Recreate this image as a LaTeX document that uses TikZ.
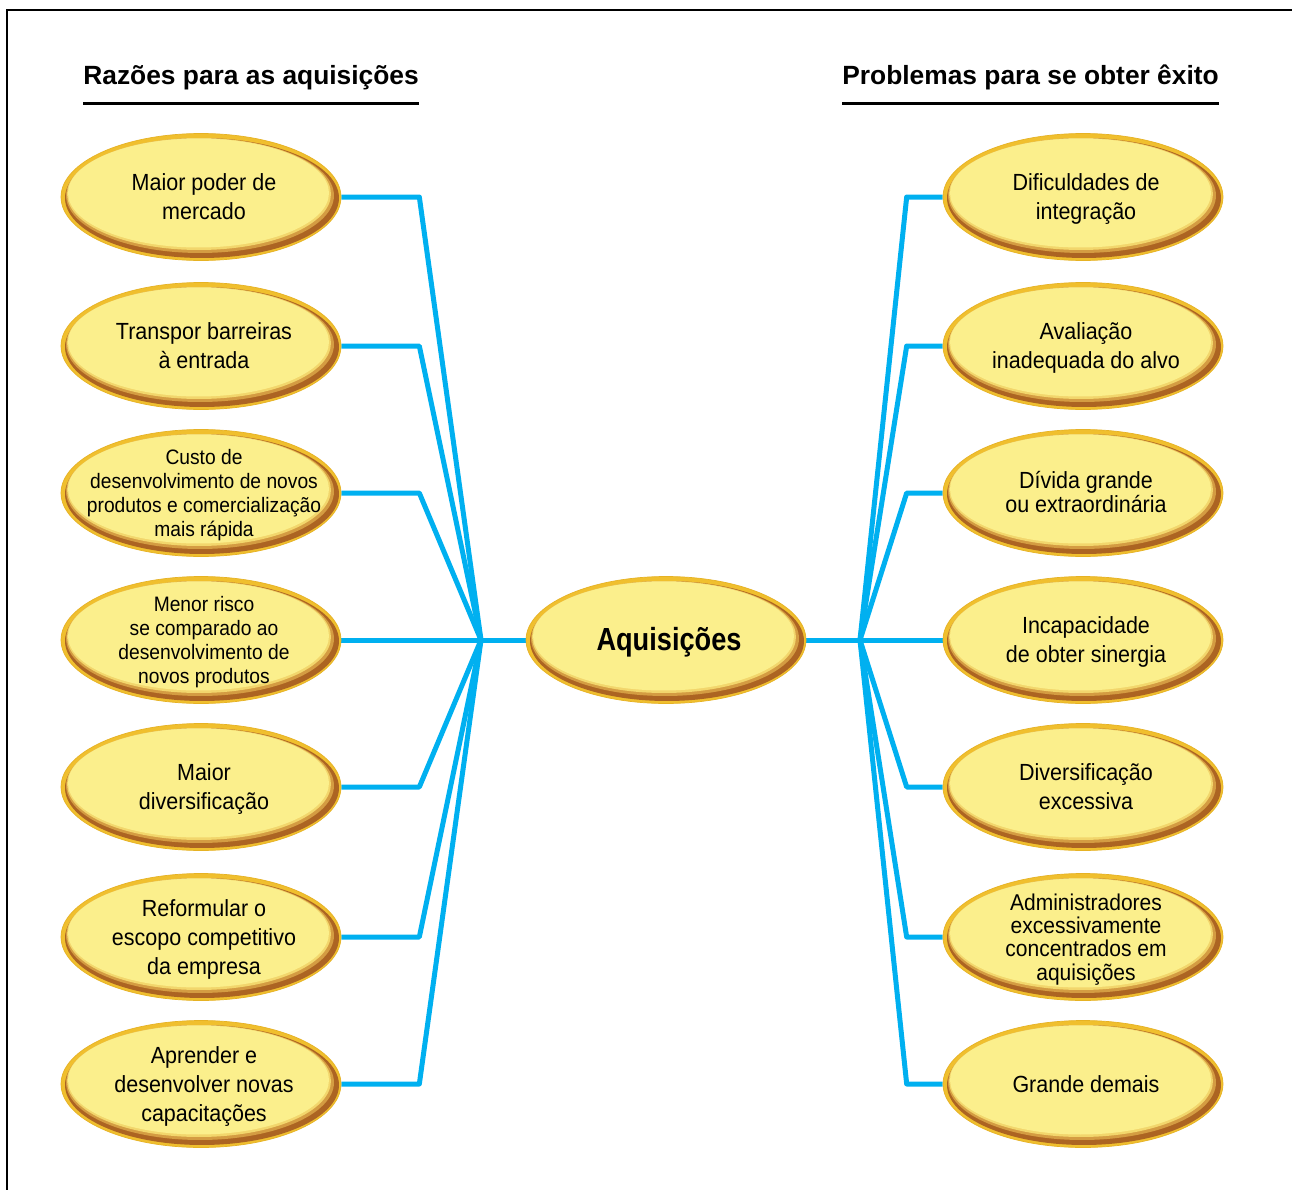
\documentclass[tikz,border=0pt]{standalone}
\usepackage{fontspec}
\setmainfont{Liberation Sans}[FakeStretch=0.92]
\newfontfamily\headfont{Liberation Sans}
\newfontfamily\hubfont{Liberation Sans}[FakeStretch=0.85]
\usetikzlibrary{shapes.geometric,backgrounds,calc}

\definecolor{linkblue}{HTML}{00B0F0}
\definecolor{rimgold}{HTML}{F0BF2E}
\definecolor{rimedge}{HTML}{E6B224}
\definecolor{shadebrown}{HTML}{AC6422}
\definecolor{shademid}{HTML}{D49C42}
\definecolor{shadelight}{HTML}{F2D66C}
\definecolor{bubbleyellow}{HTML}{FBEF8C}

% zero-size centred text block, so every bubble keeps the same size
\newcommand\ztext[1]{\makebox[0pt]{\hspace{0.12cm}\smash{\raisebox{\dimexpr-0.25em-1.7pt\relax}{\begin{tabular}[c]{@{}c@{}}#1\end{tabular}}}}}
\newcommand\normtxt{\fontsize{13.3}{16.4}\selectfont}
\newcommand\tighttxt{\fontsize{13.3}{13.6}\selectfont}
\newcommand\densetxt{\fontsize{11.9}{13.6}\selectfont}
\newcommand\admtxt{\fontsize{13}{12.5}\selectfont}

\tikzset{
  bubble/.style={ellipse, minimum width=5.6cm, minimum height=2.54cm, inner sep=0pt,
    fill=rimgold, draw=rimedge, line width=0.4pt,
    path picture={
      \fill[shadebrown] ([shift={(1,1)}]path picture bounding box.center)
        ellipse [x radius=2.74cm, y radius=1.2cm];
      \fill[shademid] ([shift={(-1,-1.5)}]path picture bounding box.center)
        ellipse [x radius=2.68cm, y radius=1.15cm];
      \fill[shadelight] ([shift={(-2,-3)}]path picture bounding box.center)
        ellipse [x radius=2.64cm, y radius=1.12cm];
      \fill[bubbleyellow] ([shift={(-2.5,-4)}]path picture bounding box.center)
        ellipse [x radius=2.61cm, y radius=1.09cm];
    }},
  link/.style={draw=linkblue, line width=0.1cm, line join=round},
  head/.style={inner sep=0pt, anchor=base west, font=\headfont\bfseries\fontsize{15}{18}\selectfont},
  headrule/.style={line width=0.06cm},
  frameline/.style={line width=0.06cm}
}

\begin{document}
\begin{tikzpicture}[x=0.02cm, y=-0.02cm]
\useasboundingbox (0,0) rectangle (1292,1190);

% frame
\draw[frameline] (7,1190) -- (7,10) -- (1292,10);

% column headings
\node[head] (H1) at (83,84) {Razões para as aquisições};
\node[head] (H2) at (842,84) {Problemas para se obter êxito};
\draw[headrule] ($(H1.base west)+(0,19)$) -- ($(H1.base east)+(0,19)$);
\draw[headrule] ($(H2.base west)+(0,19)$) -- ($(H2.base east)+(0,19)$);

% central bubble
\node[bubble, font=\hubfont\bfseries\fontsize{18.2}{20}\selectfont] (C) at (666,640) {\ztext{Aquisições}};

% reasons
\node[bubble, font=\normtxt]  (L1) at (201,197)  {\ztext{Maior poder de\\mercado}};
\node[bubble, font=\normtxt]  (L2) at (201,346)  {\ztext{Transpor barreiras\\à entrada}};
\node[bubble, font=\densetxt] (L3) at (201,493)  {\ztext{Custo de\\desenvolvimento de novos\\produtos e comercialização\\mais rápida}};
\node[bubble, font=\densetxt] (L4) at (201,640)  {\ztext{Menor risco\\se comparado ao\\desenvolvimento de\\novos produtos}};
\node[bubble, font=\normtxt]  (L5) at (201,787)  {\ztext{Maior\\diversificação}};
\node[bubble, font=\normtxt]  (L6) at (201,937)  {\ztext{Reformular o\\escopo competitivo\\da empresa}};
\node[bubble, font=\normtxt]  (L7) at (201,1084) {\ztext{Aprender e\\desenvolver novas\\capacitações}};

% problems
\node[bubble, font=\normtxt]   (R1) at (1083,197)  {\ztext{Dificuldades de\\integração}};
\node[bubble, font=\normtxt]   (R2) at (1083,346)  {\ztext{Avaliação\\inadequada do alvo}};
\node[bubble, font=\tighttxt]  (R3) at (1083,493)  {\ztext{Dívida grande\\ou extraordinária}};
\node[bubble, font=\normtxt]   (R4) at (1083,640)  {\ztext{Incapacidade\\de obter sinergia}};
\node[bubble, font=\normtxt]   (R5) at (1083,787)  {\ztext{Diversificação\\excessiva}};
\node[bubble, font=\admtxt]    (R6) at (1083,937)  {\ztext{Administradores\\excessivamente\\concentrados em\\aquisições}};
\node[bubble, font=\normtxt]   (R7) at (1083,1084) {\ztext{Grande demais}};

% junction points of the two fans
\coordinate (jl) at (481,640);
\coordinate (jr) at (860,640);

\begin{pgfonlayer}{background}
  \fill[white] (0,0) rectangle (1292,1190);
  \foreach \n in {L1,L2,L3,L5,L6,L7}
    \draw[link] (\n.east) -- ++(78,0) -- (jl);
  \draw[link] (L4.east) -- (jl) -- (C.west);
  \foreach \n in {R1,R2,R3,R5,R6,R7}
    \draw[link] (\n.west) -- ++(-36,0) -- (jr);
  \draw[link] (C.east) -- (jr) -- (R4.west);
\end{pgfonlayer}
\end{tikzpicture}
\end{document}
